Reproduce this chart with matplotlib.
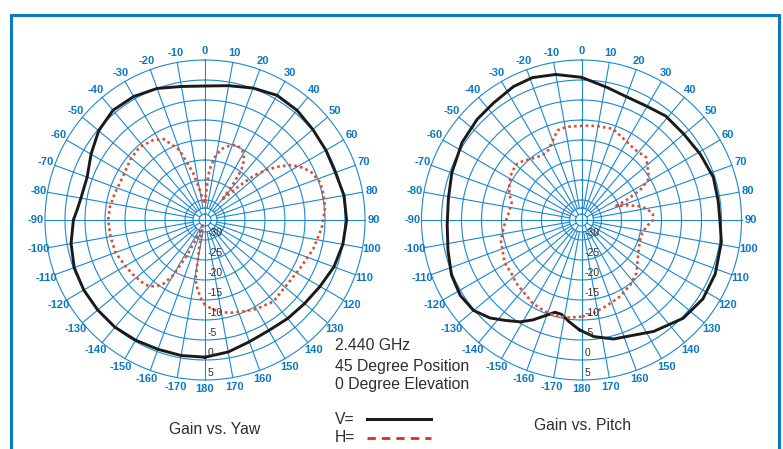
import numpy as np
import matplotlib.pyplot as plt
from matplotlib.lines import Line2D
from matplotlib.patches import Rectangle

plt.rcParams['font.family'] = ['Liberation Sans', 'DejaVu Sans']

# angles in degrees (0 = front, clockwise positive), gain in dB
yaw_v_ang = [-180, -170, -160, -150, -140, -130, -120, -110, -100, -90, -85, -80, -70,
             -60, -50, -40, -30, -20, -10, 0, 10, 20, 30, 40, 50, 60, 70, 80, 90,
             100, 110, 120, 130, 140, 150, 160, 170]
yaw_v_db = [-0.7, -0.6, -0.6, -0.3, 0.0, 0.0, 0.0, -0.2, -1.0, -2.1, -3.0, -3.5, -3.65,
            -2.1, -0.3, 0.8, 0.65, 0.0, -1.1, -1.5, -0.9, 0.1, 1.0, 0.8, 0.2, -0.1, -0.3,
            0.3, 0.4, 0.0, -0.7, -1.8, -2.5, -2.85, -3.1, -2.6, -1.5]

yaw_h_ang = [-180, -177.5, -174, -171, -169, -165, -160, -156, -153, -150, -147, -144,
             -140, -135, -127, -120, -110, -100, -90, -82, -73, -66, -60, -51, -42, -33,
             -27, -20, -14, -9, -4, 0, 3, 5, 9, 13, 18, 23, 28, 33, 36, 38.5, 40, 42, 45,
             48, 51, 54, 57.6, 62, 66, 72, 78, 84, 94, 105, 117, 128, 140, 150, 157, 164,
             170, 174, 178]
yaw_h_db = [-13.8, -15.0, -17.5, -19.8, -26.5, -31.5, -33.5, -31, -25, -19, -16, -14.6,
            -13.3, -12.9, -12.4, -12.0, -11.2, -11.0, -10.8, -11.0, -11.5, -11.8, -11.7,
            -11.0, -10.5, -11.2, -12.3, -16.4, -23.0, -28.0, -30.5, -31, -27, -22.5, -19,
            -16.8, -15.5, -14.6, -15.2, -17, -19.5, -24.3, -28.5, -27, -23.2, -18.2, -15,
            -12.3, -9.3, -7.2, -5.8, -4.7, -4.7, -4.8, -5.75, -7.0, -8.35, -8.9, -8.4,
            -9.3, -10.2, -10.9, -11.6, -12.4, -13.3]

pitch_v_ang = [-179, -173, -168, -164, -160, -154, -149, -143, -137, -130, -122, -113,
               -103, -92, -81, -70, -57, -46, -37, -27, -19, -10, 0, 11, 20, 30, 39, 50,
               61, 72, 82, 90, 99, 112, 123, 134, 147, 165, 174]
pitch_v_db = [-7.5, -9.4, -10.9, -11.0, -9.7, -7.2, -5.3, -3.55, -1.5, 0.2, 0.7, 0.3,
              -0.75, -1.4, -1.3, -0.5, 0.6, 1.25, 1.6, 2.45, 2.65, 1.95, 0.67, -1.25, -2.2,
              -2.2, -1.55, -1.6, -1.05, -0.35, -0.5, -0.4, 0.4, 1.05, 1.2, 0.35, -1.8, -4.2,
              -5.7]

pitch_h_ang = [-180, -171, -161, -150, -141, -134, -127, -119, -112, -104, -95, -86, -76,
               -70, -65, -58, -50, -45, -38, -31, -25, -20, -15, -9, -3, 3, 9, 19, 29, 37,
               46, 55, 59, 63, 66, 68, 72, 76, 80, 85, 90, 95, 102, 110, 120, 134, 143,
               153, 164, 173]
pitch_h_db = [-10.8, -10.3, -10.2, -10.8, -11.9, -12.3, -13.0, -13.0, -13.8, -14.2, -15.5,
              -16.6, -17.0, -15.8, -15.1, -14.1, -13.5, -14.2, -15.4, -16.1, -15.6, -13.9,
              -11.8, -11.4, -11.5, -11.4, -11.2, -10.9, -12.3, -12.9, -12.5, -14.6, -15.6,
              -18.6, -22.7, -25.6, -23.1, -20.5, -18.5, -17.1, -17.1, -18.5, -19.5, -19.5,
              -18.6, -15.9, -14.7, -13.6, -12.6, -11.5]

ring_db = [-33.5, -32, -30, -25, -20, -15, -10, -5, 0, 5]
ring_labels = ['-30', '-25', '-20', '-15', '-10', '-5', '0', '5']
angle_ticks = list(range(-170, 190, 10))

GRID = '#1b88cf'
LABEL_BLUE = '#0b78c0'
TEXT = '#2e2e2e'
W, H = 783, 449

fig = plt.figure(figsize=(W / 100, H / 100), dpi=100)


def polar_grid(cx, cy):
    R = 176  # px for 44 dB span
    ax = fig.add_axes([(cx - R) / W, (H - cy - R) / H, 2 * R / W, 2 * R / H],
                      projection='polar')
    ax.set_theta_zero_location('N')
    ax.set_theta_direction(-1)
    ax.set_ylim(-35, 9)
    ax.set_axis_off()
    th = np.linspace(0, 2 * np.pi, 361)
    for r in ring_db:
        ax.plot(th, np.full_like(th, r), color=GRID, lw=0.8)
    for a in range(0, 360, 10):
        r0 = -35 if a % 90 == 0 else (-33.5 if a % 30 == 0 else -32)
        ax.plot([np.deg2rad(a)] * 2, [r0, 5], color=GRID, lw=0.8)
    for a in angle_ticks:
        ax.text(np.deg2rad(a), 7.3, str(a), ha='center', va='center',
                fontsize=8, fontweight='bold', color=LABEL_BLUE)
    for r, lab in zip(ring_db[2:], ring_labels):
        ax.annotate(lab, xy=(np.pi, r), xytext=(2, 5), textcoords='offset points',
                    ha='left', va='center', fontsize=7.5, color=TEXT)
    return ax


def closed(ang, db):
    a = np.deg2rad(np.append(ang, ang[0] + 360))
    return a, np.append(db, db[0])


ax1 = polar_grid(205, 220)
ax1.plot(*closed(yaw_v_ang, yaw_v_db), color='#1a1a1a', lw=2.1)
ax1.plot(*closed(yaw_h_ang, yaw_h_db), color='#d94f36', lw=1.9, linestyle=(0, (1, 1.2)))

ax2 = polar_grid(581.5, 220)
ax2.plot(*closed(pitch_v_ang, pitch_v_db), color='#1a1a1a', lw=2.1)
ax2.plot(*closed(pitch_h_ang, pitch_h_db), color='#d94f36', lw=1.9, linestyle=(0, (1, 1.2)))

# frame
fig.add_artist(Rectangle((11 / W, -0.1), (779 - 11) / W, 1 - 15 / H + 0.1, fill=False,
                         ec='#0a7bc2', lw=2.2, transform=fig.transFigure))

# annotations
for txt, y in [('2.440 GHz', 346), ('45 Degree Position', 366.5), ('0 Degree Elevation', 385)]:
    fig.text(335 / W, 1 - y / H, txt, ha='left', va='center', fontsize=11.3, color=TEXT)
fig.text(335 / W, 1 - 420 / H, 'V=', ha='left', va='center', fontsize=11.3, color=TEXT)
fig.text(335 / W, 1 - 438 / H, 'H=', ha='left', va='center', fontsize=11.3, color=TEXT)
fig.add_artist(Line2D([367 / W, 431 / W], [1 - 419 / H] * 2, color='#1a1a1a', lw=2.2,
                      transform=fig.transFigure))
fig.add_artist(Line2D([367 / W, 431 / W], [1 - 438 / H] * 2, color='#e8262a', lw=2,
                      linestyle=(0, (3, 2.2)), transform=fig.transFigure))

fig.text(215 / W, 1 - 430 / H, 'Gain vs. Yaw', ha='center', va='center', fontsize=11.3, color=TEXT)
fig.text(583 / W, 1 - 426 / H, 'Gain vs. Pitch', ha='center', va='center', fontsize=11.3, color=TEXT)

fig.savefig('out.png', dpi=100, facecolor='white')
